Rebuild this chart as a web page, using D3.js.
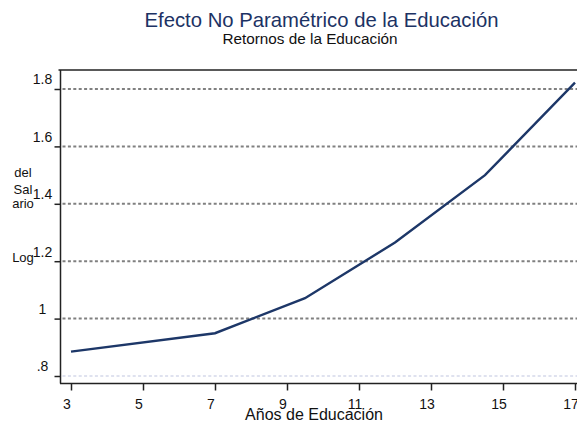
<!DOCTYPE html>
<html>
<head>
<meta charset="utf-8">
<script src="https://cdn.jsdelivr.net/npm/d3@7"></script>
<style>
  body { margin: 0; background: #fff; }
  text { font-family: "Liberation Sans", Arial, sans-serif; }
</style>
</head>
<body>
<div id="chart"></div>
<script>
// years of schooling and estimated log wage
let years = [3, 7, 9.5, 12, 14.5, 17];
let logWage = [0.885, 0.949, 1.071, 1.265, 1.50, 1.822];
let xTicks = [3, 5, 7, 9, 11, 13, 15, 17];
let yTicks = [0.8, 1, 1.2, 1.4, 1.6, 1.8];
let yTickLabels = [".8", "1", "1.2", "1.4", "1.6", "1.8"];

let svg = d3.select("#chart")
            .append("svg")
            .attr("width", 577)
            .attr("height", 426);

let x = d3.scaleLinear().domain([3, 17]).range([71, 575]);
let y = d3.scaleLinear().domain([0.8, 1.8]).range([376, 89]);

let plotLeft = 60.5, plotTop = 70, plotBottom = 383.5, plotRight = 577;

// titles
svg.append("text")
    .attr("x", 321.5).attr("y", 27)
    .attr("text-anchor", "middle")
    .style("font-size", "20.3px")
    .style("fill", "#1c3264")
    .text("Efecto No Paramétrico de la Educación");

svg.append("text")
    .attr("x", 310).attr("y", 43.5)
    .attr("text-anchor", "middle")
    .style("font-size", "15.3px")
    .style("fill", "#111")
    .text("Retornos de la Educación");

// grid lines
svg.selectAll(".grid")
    .data(yTicks)
    .enter().append("line")
    .attr("class", "grid")
    .attr("x1", plotLeft + 2).attr("x2", plotRight)
    .attr("y1", d => y(d)).attr("y2", d => y(d))
    .style("stroke", d => d === 0.8 ? "#dfe2ef" : "#808080")
    .style("stroke-width", 2)
    .style("stroke-dasharray", "3,2.4");

// frame
svg.append("line")
    .attr("x1", plotLeft - 2).attr("x2", plotRight)
    .attr("y1", plotTop).attr("y2", plotTop)
    .style("stroke", "#222").style("stroke-width", 1.6);

// axes
let yAxis = svg.append("g")
    .attr("transform", "translate(" + plotLeft + ",0)")
    .call(d3.axisLeft(y).tickValues(yTicks).tickSize(6).tickSizeOuter(0)
        .tickFormat((d, i) => yTickLabels[i]));
yAxis.select(".domain").attr("d", "M0," + plotTop + "V" + plotBottom);
yAxis.selectAll("text")
    .attr("text-anchor", "middle")
    .attr("x", -18).attr("y", -10).attr("dy", "0.35em")
    .style("font-size", "14px").style("fill", "#111");

let xAxis = svg.append("g")
    .attr("transform", "translate(0," + plotBottom + ")")
    .call(d3.axisBottom(x).tickValues(xTicks).tickSize(7).tickSizeOuter(0)
        .tickFormat(d3.format("d")));
xAxis.select(".domain").attr("d", "M" + (plotLeft - 0.5) + ",0H" + plotRight);
xAxis.selectAll("text")
    .attr("x", -4.5).attr("y", 25.5).attr("dy", 0)
    .style("font-size", "14px").style("fill", "#111");

svg.selectAll(".domain, .tick line")
    .style("stroke", "#222").style("stroke-width", 1.5);

// axis titles
svg.append("text")
    .attr("x", 314).attr("y", 420)
    .attr("text-anchor", "middle")
    .style("font-size", "16px").style("fill", "#111")
    .text("Años de Educación");

let yTitle = [["del", 172], ["Sal", 189], ["ario", 203], ["Log", 257]];
svg.selectAll(".ytitle")
    .data(yTitle)
    .enter().append("text")
    .attr("class", "ytitle")
    .attr("x", 23).attr("y", d => d[1])
    .attr("dy", "0.35em")
    .attr("text-anchor", "middle")
    .style("font-size", "13px").style("fill", "#111")
    .text(d => d[0]);

// the fitted line
let line = d3.line()
    .x((d, i) => x(years[i]))
    .y(d => y(d));

svg.append("path")
    .datum(logWage)
    .attr("d", line)
    .style("fill", "none")
    .style("stroke", "#1d3768")
    .style("stroke-width", 2.4);
</script>
</body>
</html>
